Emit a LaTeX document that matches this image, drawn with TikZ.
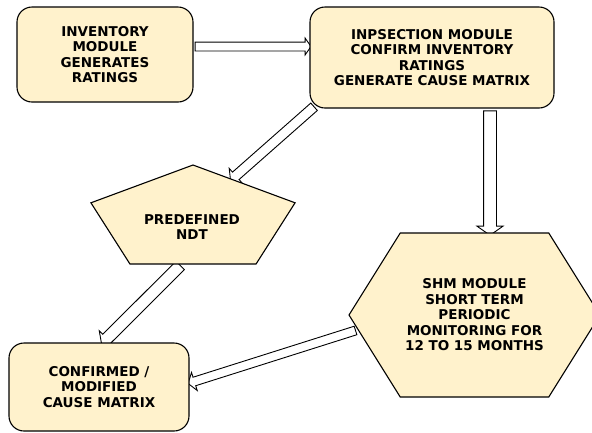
\documentclass[tikz,border=0pt]{standalone}
\usepackage{fontspec}
\setmainfont{DejaVu Sans}
\usetikzlibrary{shapes.geometric,shapes.symbols,shapes.arrows,calc,backgrounds}
\definecolor{cream}{HTML}{FFF2CC}
\tikzset{
  txt/.style={font=\fontsize{13.5}{15.5}\selectfont\bfseries, align=center},
  shapeline/.style={draw=black, line width=1.1pt, fill=cream},
  card/.style={shapeline, rounded corners=15pt, inner sep=0pt, txt},
  hollowarr/.style={single arrow, draw=black, fill=white, line width=0.9pt,
    inner xsep=0pt, minimum width=0pt, single arrow head extend=5pt,
    single arrow tip angle=110, single arrow head indent=0pt, anchor=center},
}
% hollow block arrow from #2 to #3; #1 sets the shaft half-width etc.
\newcommand\hollowlink[3][]{%
  \path let \p1=(#2), \p2=(#3),
    \n1={atan2(\y2-\y1,\x2-\x1)}, \n2={veclen(\x2-\x1,\y2-\y1)} in
    node[hollowarr, #1, minimum height=\n2, rotate=\n1] at ($(#2)!0.5!(#3)$) {};}
\begin{document}
\begin{tikzpicture}[x=1pt,y=-1pt]
\useasboundingbox (0,0) rectangle (592,432);

% process boxes
\node[card, minimum width=176pt, minimum height=95pt] (inv) at (105,54.5)
  {INVENTORY\\MODULE\\GENERATES\\RATINGS};
\node[card, minimum width=244pt, minimum height=101pt] (insp) at (432,57.5)
  {INPSECTION MODULE\\CONFIRM INVENTORY\\RATINGS\\GENERATE CAUSE MATRIX};
\node[card, minimum width=180pt, minimum height=88pt] (cause) at (99,387)
  {CONFIRMED /\\MODIFIED\\CAUSE MATRIX};

% pentagon for the NDT step
\node[shapeline, regular polygon, regular polygon sides=5, minimum size=109.4pt,
  inner sep=0pt, outer sep=0pt, xscale=1.962] (ndt) at (193,219.7) {};
\node[txt] (ndttext) at (192,227) {PREDEFINED\\NDT};

% hexagon for the SHM step
\node[shapeline, signal, signal to=west and east, signal pointer angle=116,
  minimum width=251pt, minimum height=164pt, inner sep=0pt, outer sep=0pt, txt]
  (shm) at (474.5,315)
  {SHM MODULE\\SHORT TERM\\PERIODIC\\MONITORING FOR\\12 TO 15 MONTHS};

% connector end points on the shape borders
\coordinate (a1s) at ([yshift=8pt]inv.east);
\coordinate (a1e) at (insp.west |- a1s);
\coordinate (a2s) at ([xshift=58pt]insp.south);
\coordinate (a2e) at (a2s |- shm.north);
\coordinate (a3s) at ([shift={(6pt,3pt)}]insp.south west);
\coordinate (a3e) at ($(ndt.corner 1)!0.38!(ndt.corner 5)$);
\coordinate (a4s) at ($(ndt.corner 3)!0.41!(ndt.corner 4)$);
\coordinate (a4e) at ([xshift=4pt]cause.north);
\coordinate (a5s) at ([shift={(8pt,-15pt)}]shm.west);
\coordinate (a5e) at ([yshift=4pt]cause.east);

\begin{scope}[on background layer]
  \hollowlink[inner ysep=4pt, single arrow head extend=4pt]{a1s}{a1e}
  \hollowlink[inner ysep=6pt, single arrow head extend=6.5pt]{a2s}{a2e}
  \hollowlink[inner ysep=4.5pt]{a3s}{a3e}
  \hollowlink[inner ysep=5.5pt]{a4s}{a4e}
  \hollowlink[inner ysep=4pt]{a5s}{a5e}
\end{scope}
\end{tikzpicture}
\end{document}
